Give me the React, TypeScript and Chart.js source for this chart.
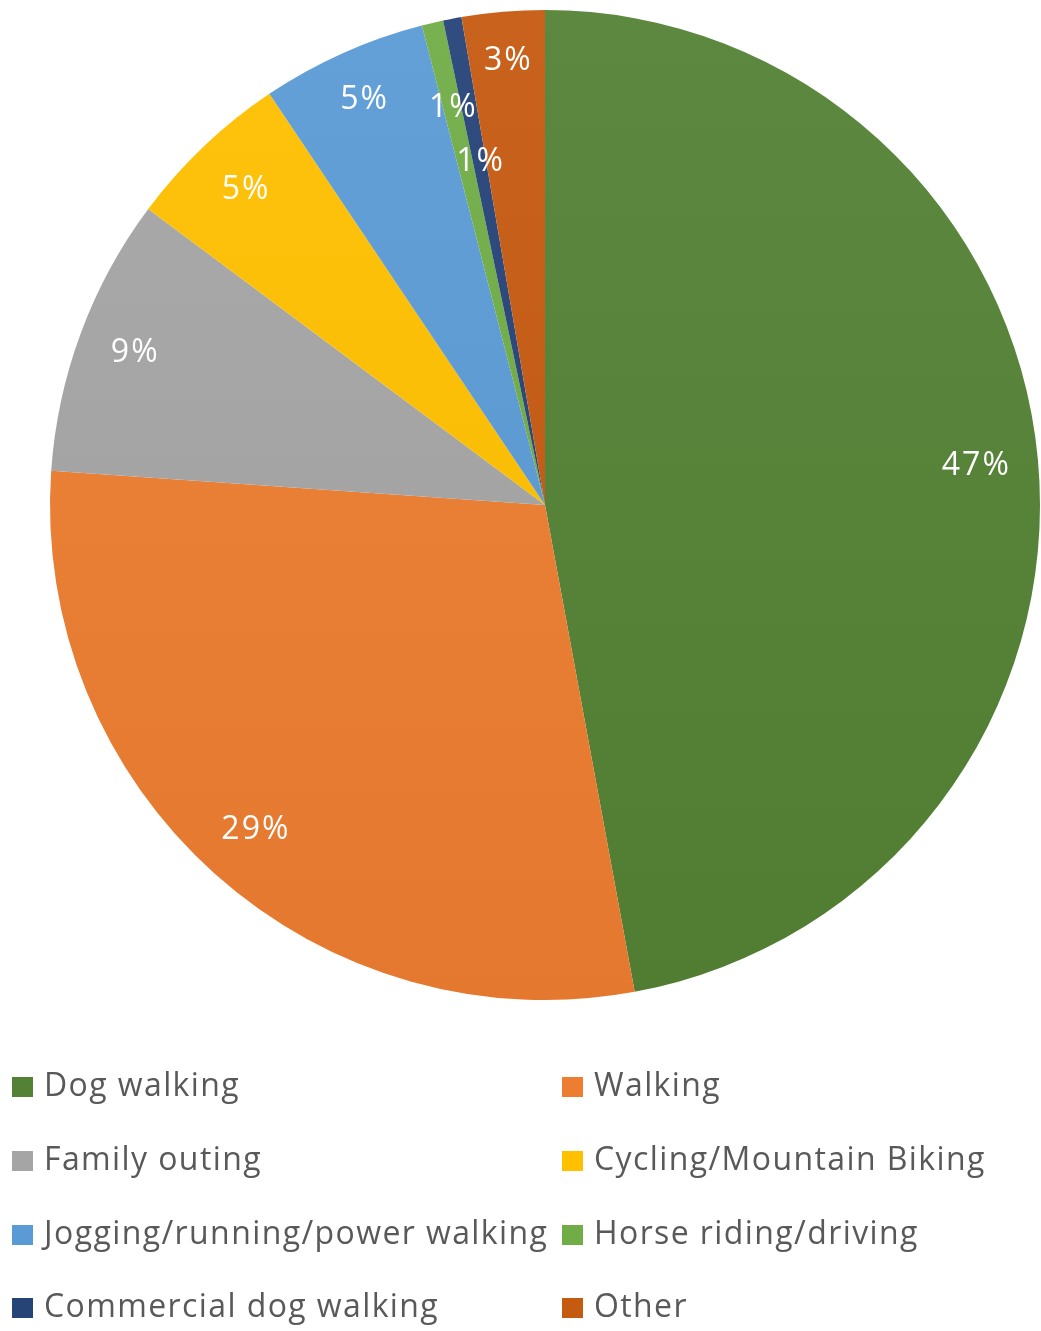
import React, { useEffect, useRef } from "react";
import { Chart, registerables } from "chart.js";

Chart.register(...registerables);

const categories = [
  "Dog walking",
  "Walking",
  "Family outing",
  "Cycling/Mountain Biking",
  "Jogging/running/power walking",
  "Horse riding/driving",
  "Commercial dog walking",
  "Other",
];
const shares = [47.1, 29.0, 9.1, 5.4, 5.4, 0.7, 0.6, 2.7];
const colors = ["#548235", "#ED7D31", "#A5A5A5", "#FFC000", "#5B9BD5", "#70AD47", "#264478", "#C55A11"];

// label placement (fraction of radius along each slice's mid-angle)
const labelRadius = [0.873, 0.88, 0.885, 0.879, 0.897, 0.824, 0.706, 0.9];

const FONT = "'Open Sans', 'Noto Sans', sans-serif";

function hexToRgb(h: string) {
  const n = parseInt(h.slice(1), 16);
  return [(n >> 16) & 255, (n >> 8) & 255, n & 255];
}
function mix(h: string, target: number, t: number) {
  const [r, g, b] = hexToRgb(h);
  const f = (c: number) => Math.round(c + (target - c) * t);
  return `rgb(${f(r)},${f(g)},${f(b)})`;
}

const labelPlugin = {
  id: "pctLabels",
  afterDatasetsDraw(chart: any) {
    const { ctx } = chart;
    const meta = chart.getDatasetMeta(0);
    const data = chart.data.datasets[0].data as number[];
    const total = data.reduce((a, b) => a + b, 0);
    ctx.save();
    ctx.fillStyle = "#ffffff";
    ctx.font = `32px ${FONT}`;
    (ctx as any).letterSpacing = "2px";
    ctx.textAlign = "center";
    ctx.textBaseline = "middle";
    meta.data.forEach((arc: any, i: number) => {
      const { x, y, startAngle, endAngle, outerRadius } = arc.getProps(
        ["x", "y", "startAngle", "endAngle", "outerRadius"],
        true
      );
      const mid = (startAngle + endAngle) / 2;
      const r = outerRadius * labelRadius[i];
      const pct = Math.round((data[i] / total) * 100);
      ctx.fillText(`${pct}%`, x + Math.cos(mid) * r + 1, y + Math.sin(mid) * r);
    });
    ctx.restore();
  },
};

const legendPlugin = {
  id: "gridLegend",
  afterDraw(chart: any) {
    const { ctx } = chart;
    const colX = [12, 562];
    const rowY = [1087, 1161, 1235, 1308];
    ctx.save();
    ctx.font = `32px ${FONT}`;
    (ctx as any).letterSpacing = "1.4px";
    ctx.textBaseline = "middle";
    ctx.textAlign = "left";
    chart.data.labels.forEach((lab: string, i: number) => {
      const cx = colX[i % 2];
      const cy = rowY[Math.floor(i / 2)];
      ctx.fillStyle = colors[i];
      ctx.fillRect(cx, cy - 10, 21, 20);
      ctx.fillStyle = "#595959";
      ctx.fillText(lab, cx + 32, cy);
    });
    ctx.restore();
  },
};

export default function App() {
  const ref = useRef<HTMLCanvasElement | null>(null);
  useEffect(() => {
    if (!ref.current) return;
    const chart = new Chart(ref.current, {
      type: "pie",
      data: {
        labels: categories,
        datasets: [
          {
            data: shares,
            borderWidth: 0,
            hoverOffset: 0,
            offset: 0,
            backgroundColor: (c: any) => {
              const base = colors[c.dataIndex % colors.length];
              const area = c.chart.chartArea;
              if (!area) return base;
              const g = c.chart.ctx.createLinearGradient(0, area.top, 0, area.bottom);
              g.addColorStop(0, mix(base, 255, 0.05));
              g.addColorStop(1, mix(base, 0, 0.04));
              return g;
            },
          },
        ],
      },
      options: {
        animation: false,
        responsive: false,
        maintainAspectRatio: false,
        layout: { padding: { left: 50, right: 1, top: 10, bottom: 331 } },
        plugins: {
          legend: { display: false },
          tooltip: { enabled: false },
        },
      },
      plugins: [labelPlugin, legendPlugin],
    });
    return () => chart.destroy();
  }, []);
  return (
    <div style={{ position: "fixed", left: 0, top: 0, width: 1041, height: 1331, background: "#fff" }}>
      <canvas ref={ref} width={1041} height={1331} style={{ width: 1041, height: 1331, display: "block" }} />
    </div>
  );
}
